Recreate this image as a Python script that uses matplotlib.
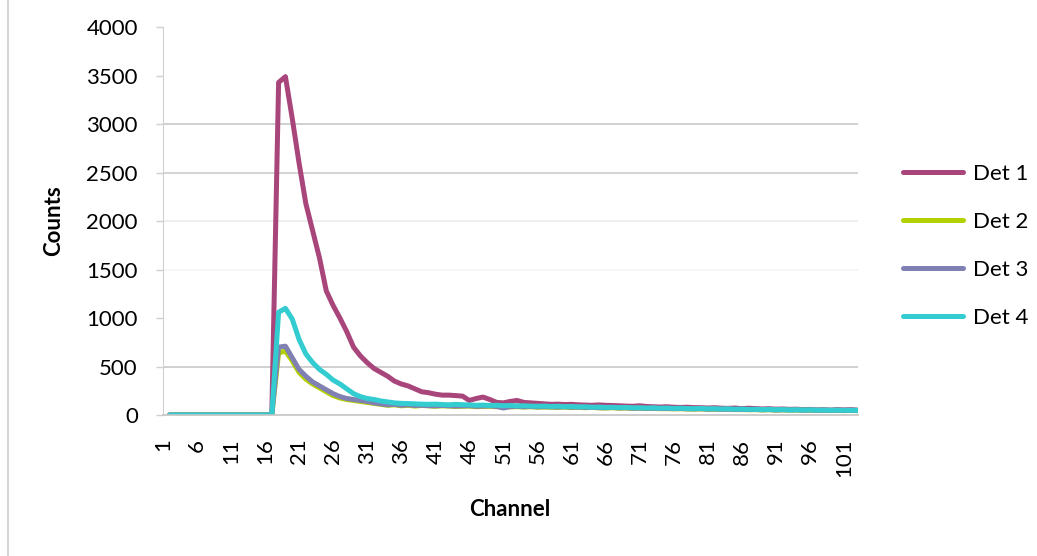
import matplotlib.pyplot as plt
from matplotlib.lines import Line2D

# channel numbers (channel 1 is empty)
channels = list(range(2, 104))

det1 = [0] * 16 + [
    3430, 3490, 3060, 2600, 2180, 1900, 1620, 1280, 1130, 1000,
    860, 700, 610, 540, 480, 440, 400, 350, 320, 300,
    270, 240, 230, 215, 205, 205, 200, 195, 150, 170,
    185, 160, 130, 125, 140, 150, 130, 125, 120, 115,
    110, 112, 108, 110, 105, 102, 100, 104, 100, 98,
    95, 92, 90, 95, 88, 85, 82, 85, 80, 78,
    80, 76, 75, 72, 75, 70, 68, 72, 65, 70,
    66, 62, 65, 60, 62, 58, 60, 55, 58, 52,
    55, 50, 56, 52, 55, 50]

det2 = [0] * 16 + [
    640, 660, 560, 440, 370, 320, 280, 240, 200, 175,
    160, 150, 140, 130, 120, 110, 100, 105, 95, 100,
    92, 98, 95, 90, 95, 92, 88, 90, 92, 86,
    88, 90, 85, 88, 84, 86, 82, 85, 80, 82,
    80, 78, 82, 76, 80, 75, 78, 74, 72, 75,
    70, 72, 68, 70, 66, 68, 65, 66, 63, 65,
    62, 60, 63, 58, 60, 57, 58, 55, 56, 54,
    55, 52, 54, 50, 52, 50, 51, 48, 50, 47,
    48, 46, 48, 45, 47, 44]

det3 = [0] * 16 + [
    700, 710, 590, 470, 400, 340, 300, 260, 220, 190,
    170, 160, 150, 140, 125, 115, 105, 110, 100, 105,
    98, 100, 96, 94, 98, 95, 92, 94, 96, 90,
    92, 94, 88, 72, 86, 90, 85, 88, 84, 86,
    84, 82, 85, 80, 82, 78, 80, 76, 75, 78,
    73, 75, 70, 72, 69, 70, 67, 68, 66, 67,
    64, 63, 65, 60, 62, 59, 60, 57, 58, 56,
    57, 54, 56, 52, 54, 52, 53, 50, 52, 49,
    50, 48, 50, 47, 49, 46]

det4 = [0] * 16 + [
    1060, 1100, 990, 780, 630, 540, 470, 420, 360, 320,
    270, 220, 190, 170, 160, 145, 135, 125, 120, 118,
    115, 112, 110, 112, 108, 105, 110, 106, 104, 100,
    102, 98, 100, 96, 98, 94, 95, 92, 90, 92,
    88, 90, 86, 88, 84, 85, 80, 82, 78, 80,
    76, 78, 74, 75, 72, 74, 70, 72, 68, 70,
    67, 66, 68, 64, 65, 62, 63, 60, 61, 58,
    59, 56, 58, 54, 56, 52, 54, 51, 53, 50,
    51, 49, 50, 48, 49, 47]

names = ["Det 1", "Det 2", "Det 3", "Det 4"]
colors = ["#A8457B", "#B3D000", "#8080B2", "#33CCD0"]

yticks = list(range(0, 4001, 500))
xlabels = list(range(1, 102, 5))

plt.rcParams['font.family'] = ['Lato', 'DejaVu Sans']
FS = 16

fig = plt.figure(figsize=(10.37, 5.56), dpi=100)
ax = fig.add_axes([0.157, 0.2536, 0.670, 0.6975])

for series, name, color in zip([det1, det2, det3, det4], names, colors):
    ax.plot(channels, series, color=color, lw=3.6, label=name,
            solid_joinstyle='round', solid_capstyle='round')

ax.set_xlim(1, 103)
ax.set_ylim(0, 4000)
ax.set_yticks(yticks)
ax.set_xticks(xlabels)
ax.set_xticklabels([str(v) for v in xlabels], rotation=90, va='top')
ax.set_xticks([1, 51, 101], minor=True)
ax.tick_params(axis='x', which='major', length=0, pad=17, labelsize=FS)
ax.tick_params(axis='x', which='minor', length=6, color='#BFBFBF', width=1)
ax.tick_params(axis='y', length=5, color='#D0D0D0', width=1, pad=13, labelsize=FS)

# horizontal gridlines, 0 through 4000; some come out fainter than others
grid_shades = [None, '#C8C8C8', None, '#F3F3F3', '#EBEBEB', '#CCCCCC', '#C8C8C8', None, None]
for level, shade in zip(yticks, grid_shades):
    if shade is not None:
        ax.axhline(level, color=shade, lw=1.2, zorder=0)

for side in ['top', 'right']:
    ax.spines[side].set_visible(False)
ax.spines['left'].set_color('#D0D0D0')
ax.spines['bottom'].set_color('#C4C4C4')
ax.spines['bottom'].set_linewidth(1.2)

ax.set_xlabel("Channel", fontsize=FS, fontweight='bold', labelpad=16)
ax.set_ylabel("Counts", fontsize=FS, fontweight='bold', labelpad=16)

ax.legend(loc='center left', bbox_to_anchor=(1.036, 0.436), frameon=False,
          fontsize=FS, handlelength=2.7, handletextpad=0.45, labelspacing=1.27)

fig.add_artist(Line2D([0.008, 0.008], [0, 1], color='#D4D4D4', lw=1.5,
                      transform=fig.transFigure))

fig.savefig("out.png", dpi=100)
